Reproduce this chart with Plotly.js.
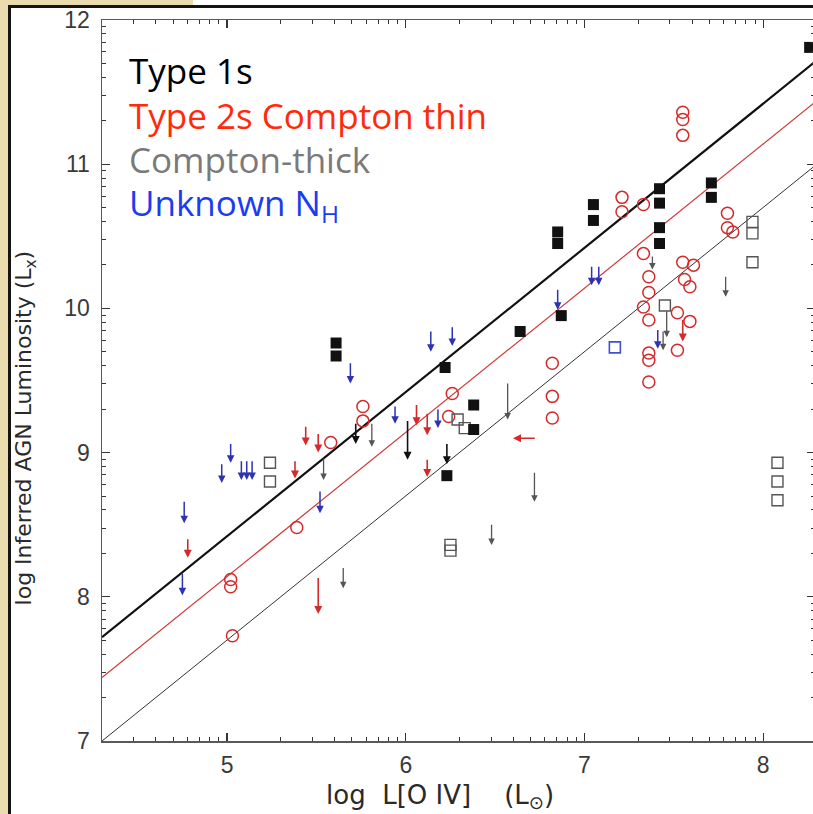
<!DOCTYPE html>
<html>
<head>
<meta charset="utf-8">
<script src="https://cdn.plot.ly/plotly-3.0.1.min.js"></script>
<style>
  html, body { margin: 0; padding: 0; background: #ffffff; }
  #page { position: relative; width: 813px; height: 814px; overflow: hidden; background: #ffffff; }
  .beige { position: absolute; background: #ebdcb0; }
  .rule { position: absolute; background: #141414; }
  #chart { position: absolute; left: 0; top: 0; width: 830px; height: 814px; }
</style>
</head>
<body>
<div id="page">
  <div class="beige" style="left:0;top:0;width:8px;height:814px;"></div>
  <div class="beige" style="left:0;top:0;width:193px;height:5px;"></div>
  <div class="rule" style="left:8px;top:5px;width:805px;height:3px;"></div>
  <div class="rule" style="left:8px;top:5px;width:3px;height:809px;"></div>
  <div id="chart"></div>
</div>
<script>
// ---- Type 1s (filled squares) ----
const type1X = [5.61, 5.61, 6.22, 6.38, 6.38, 6.23, 6.64, 6.87, 6.85, 6.85, 7.05, 7.05, 7.42, 7.42, 7.42, 7.42, 7.71, 7.71, 8.26];
const type1Y = [9.76, 9.67, 9.59, 9.33, 9.16, 8.84, 9.84, 9.95, 10.53, 10.45, 10.72, 10.61, 10.83, 10.73, 10.56, 10.45, 10.87, 10.77, 11.81];
// Type 1s upper limits: value and arrow length (dex)
const type1LimX = [5.72, 6.01, 6.23];
const type1LimY = [9.21, 9.23, 9.07];
const type1LimLen = [0.15, 0.28, 0.15];

// ---- Type 2s Compton thin (open circles) ----
const type2X = [5.03, 5.02, 5.02, 5.39, 5.58, 5.76, 5.76, 6.26, 6.24, 6.82, 6.82, 6.82,
                7.21, 7.21, 7.33, 7.33, 7.36, 7.36, 7.33, 7.36, 7.55, 7.61, 7.56, 7.59,
                7.52, 7.59, 7.52, 7.36, 7.36, 7.36, 7.80, 7.80, 7.83, 7.55, 7.55, 7.55];
const type2Y = [7.73, 8.12, 8.07, 8.48, 9.07, 9.32, 9.22, 9.41, 9.25, 9.62, 9.39, 9.24,
                10.77, 10.67, 10.72, 10.38, 10.22, 10.11, 10.01, 9.92, 10.32, 10.30, 10.20, 10.15,
                9.97, 9.91, 9.71, 9.69, 9.64, 9.49, 10.66, 10.56, 10.53, 11.36, 11.31, 11.20];
const type2LimX = [4.78, 5.51, 5.38, 5.44, 5.51, 6.06, 6.12, 6.12, 7.55];
const type2LimY = [8.41, 8.14, 8.95, 9.19, 9.14, 9.34, 9.28, 8.96, 9.93];
const type2LimLen = [0.14, 0.26, 0.13, 0.14, 0.14, 0.15, 0.16, 0.13, 0.16];
// limit on the [O IV] axis (arrow pointing left)
const type2XLimX = [6.73];
const type2XLimY = [9.10];
const type2XLimLen = [0.13];

// ---- Compton-thick (open squares) ----
const thickX = [5.24, 5.24, 6.29, 6.33, 6.25, 6.25, 7.45, 7.94, 7.94, 7.94, 8.08, 8.08, 8.08];
const thickY = [8.93, 8.80, 9.23, 9.17, 8.36, 8.32, 10.02, 10.60, 10.52, 10.32, 8.93, 8.80, 8.67];
const thickLimX = [6.57, 6.72, 6.48, 5.65, 5.54, 5.81, 7.79, 7.38, 7.46, 7.44];
const thickLimY = [9.49, 8.87, 8.51, 8.21, 8.97, 9.21, 10.23, 10.37, 9.99, 9.85];
const thickLimLen = [0.26, 0.21, 0.15, 0.15, 0.16, 0.17, 0.15, 0.10, 0.19, 0.14];

// ---- Unknown N_H ----
const unknownX = [7.17];
const unknownY = [9.73];
const unknownLimX = [4.76, 4.75, 4.97, 5.02, 5.08, 5.11, 5.14, 5.52, 5.69, 5.94, 6.14, 6.26, 6.18, 6.85, 7.04, 7.08, 7.41];
const unknownLimY = [8.67, 8.17, 8.93, 9.07, 8.95, 8.95, 8.95, 8.74, 9.63, 9.33, 9.85, 9.88, 9.31, 10.14, 10.30, 10.30, 9.86];
const unknownLimLen = [0.16, 0.16, 0.14, 0.14, 0.14, 0.14, 0.14, 0.16, 0.15, 0.13, 0.15, 0.14, 0.14, 0.15, 0.14, 0.14, 0.14];

// ---- Fitted relations ----
const fitX = [4.30, 8.29];
const type1FitY = [7.72, 11.71];
const type2FitY = [7.44, 11.43];
const thickFitY = [7.00, 10.99];

// ---- Axes ----
const xTickVals = [5, 6, 7, 8];
const xTickText = ['5', '6', '7', '8'];
const yTickVals = [7, 8, 9, 10, 11, 12];
const yTickText = ['7', '8', '9', '10', '11', '12'];

const legendLines = ['Type 1s', 'Type 2s Compton thin', 'Compton-thick', 'Unknown N<sub>H</sub>'];

const COLORS = { type1: '#111111', type2: '#d42a2a', thick: '#555555', unknown: '#2e32b4' };
const LEGEND_COLORS = ['#000000', '#ff2a0a', '#7a7a7a', '#1c3cf2'];

// log-spaced minor ticks within each unit step, as the axis style uses
function minorTicks(lo, hi) {
  const out = [];
  for (let n = lo; n < hi; n++) {
    for (let k = 2; k <= 9; k++) out.push(n + Math.log10(k));
  }
  return out;
}

const traces = [
  { x: fitX, y: thickFitY, mode: 'lines', line: { color: '#333333', width: 1 }, hoverinfo: 'skip' },
  { x: fitX, y: type2FitY, mode: 'lines', line: { color: '#d03838', width: 1.2 }, hoverinfo: 'skip' },
  { x: fitX, y: type1FitY, mode: 'lines', line: { color: '#111111', width: 2.2 }, hoverinfo: 'skip' },
  { x: type2X, y: type2Y, mode: 'markers',
    marker: { symbol: 'circle-open', size: 12, color: COLORS.type2, line: { width: 1.5, color: COLORS.type2 } } },
  { x: thickX, y: thickY, mode: 'markers',
    marker: { symbol: 'square-open', size: 11, color: COLORS.thick, line: { width: 1.4, color: COLORS.thick } } },
  { x: unknownX, y: unknownY, mode: 'markers',
    marker: { symbol: 'square-open', size: 11, color: '#4050d0', line: { width: 1.6, color: '#4050d0' } } },
  { x: type1X, y: type1Y, mode: 'markers',
    marker: { symbol: 'square', size: 11, color: COLORS.type1, line: { width: 0 } } }
];

const annotations = [];
function addDownArrows(xs, ys, lens, color, width) {
  for (let i = 0; i < xs.length; i++) {
    annotations.push({
      x: xs[i], y: ys[i] - lens[i], ax: xs[i], ay: ys[i],
      xref: 'x', yref: 'y', axref: 'x', ayref: 'y',
      text: '', showarrow: true, arrowhead: 2, arrowsize: 1, arrowwidth: width,
      arrowcolor: color, standoff: 0, startstandoff: 0
    });
  }
}
addDownArrows(thickLimX, thickLimY, thickLimLen, '#555555', 1.3);
addDownArrows(type2LimX, type2LimY, type2LimLen, COLORS.type2, 1.6);
addDownArrows(unknownLimX, unknownLimY, unknownLimLen, COLORS.unknown, 1.5);
addDownArrows(type1LimX, type1LimY, type1LimLen, COLORS.type1, 1.6);
for (let i = 0; i < type2XLimX.length; i++) {
  annotations.push({
    x: type2XLimX[i] - type2XLimLen[i], y: type2XLimY[i], ax: type2XLimX[i], ay: type2XLimY[i],
    xref: 'x', yref: 'y', axref: 'x', ayref: 'y',
    text: '', showarrow: true, arrowhead: 2, arrowsize: 1, arrowwidth: 1.6,
    arrowcolor: COLORS.type2, standoff: 0, startstandoff: 0
  });
}

// key in the upper left
const legendY = [0.930, 0.868, 0.806, 0.744];
legendLines.forEach((t, i) => {
  annotations.push({
    text: t, xref: 'paper', yref: 'paper', x: 0.0355, y: legendY[i],
    xanchor: 'left', yanchor: 'middle', showarrow: false,
    font: { family: '"Open Sans", Lato, sans-serif', size: 35, color: LEGEND_COLORS[i] }
  });
});

// axis titles
annotations.push({
  text: 'log Inferred AGN Luminosity (L<sub>x</sub>)', xref: 'paper', yref: 'paper',
  x: -0.1075, y: 0.434, textangle: -90, showarrow: false, xanchor: 'center', yanchor: 'middle',
  font: { family: '"DejaVu Sans", sans-serif', size: 22, color: '#2a2a2a' }
});
annotations.push({
  text: 'log  L[O IV]    (L<sub>⊙</sub>)', xref: 'paper', yref: 'paper',
  x: 0.474, y: -0.077, showarrow: false, xanchor: 'center', yanchor: 'middle',
  font: { family: '"DejaVu Sans", sans-serif', size: 26, color: '#2a2a2a' }
});

const axisCommon = {
  showgrid: false, zeroline: false, showline: true, linecolor: '#5a5a5a', linewidth: 1.5,
  mirror: 'ticks', ticks: 'inside', ticklen: 8, tickwidth: 1.2, tickcolor: '#333333',
  tickfont: { family: '"Liberation Sans", Arial, sans-serif', size: 23, color: '#3a3a3a' }
};

const layout = {
  width: 830, height: 814,
  margin: { l: 102, r: 15, t: 20, b: 73 },
  paper_bgcolor: 'rgba(0,0,0,0)', plot_bgcolor: '#ffffff',
  showlegend: false,
  xaxis: Object.assign({}, axisCommon, {
    range: [4.30, 8.29], tickmode: 'array', tickvals: xTickVals, ticktext: xTickText,
    ticklabelstandoff: 3,
    minor: { tickmode: 'array', tickvals: minorTicks(4, 9), ticks: 'inside', ticklen: 4, tickwidth: 1, tickcolor: '#333333' }
  }),
  yaxis: Object.assign({}, axisCommon, {
    range: [7, 12], tickmode: 'array', tickvals: yTickVals, ticktext: yTickText,
    ticklabelstandoff: 6,
    minor: { tickmode: 'array', tickvals: minorTicks(7, 12), ticks: 'inside', ticklen: 4, tickwidth: 1, tickcolor: '#333333' }
  }),
  annotations: annotations
};

Plotly.newPlot('chart', traces, layout, { staticPlot: true, displayModeBar: false });
</script>
</body>
</html>
